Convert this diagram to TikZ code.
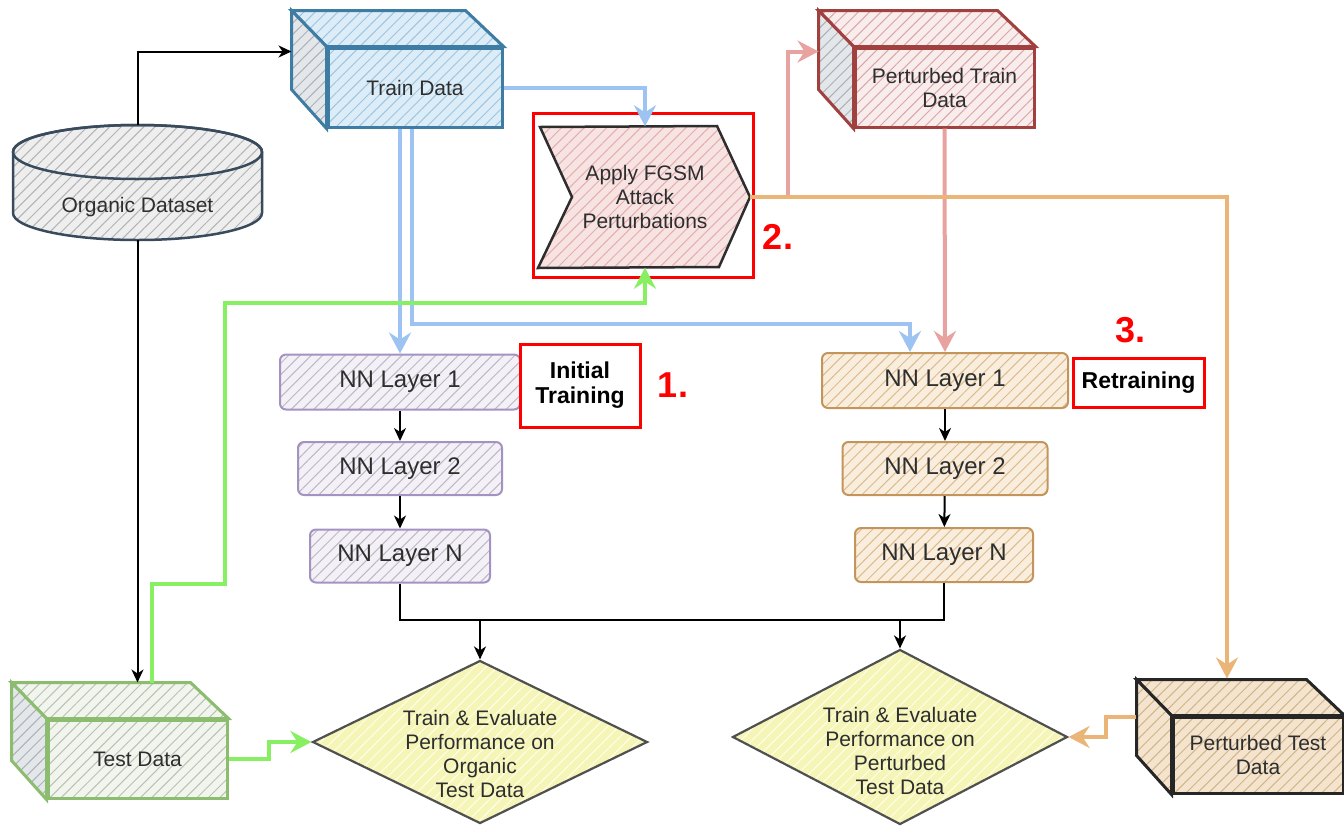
\documentclass[tikz,border=0pt]{standalone}
\usepackage{fontspec}
\setmainfont{Liberation Sans}
\usetikzlibrary{arrows.meta,calc,patterns.meta,shapes.geometric}

\definecolor{txtgray}{HTML}{2E2E2E}
\definecolor{bluestroke}{HTML}{3E7CA3}
\definecolor{bluefill}{HTML}{DDEDF8}
\definecolor{bluehatch}{HTML}{9CC5E2}
\definecolor{sidefill}{HTML}{E4E7EA}
\definecolor{sidehatch}{HTML}{AAB1B8}
\definecolor{redstroke}{HTML}{A0413F}
\definecolor{redfill}{HTML}{F9ECEC}
\definecolor{redhatch}{HTML}{D9A5A5}
\definecolor{grnstroke}{HTML}{8CBC6E}
\definecolor{grnfill}{HTML}{F1F5EE}
\definecolor{grnhatch}{HTML}{B8C2B2}
\definecolor{tanstroke}{HTML}{262626}
\definecolor{tanfill}{HTML}{F4E4CD}
\definecolor{tanhatch}{HTML}{D2B48A}
\definecolor{orgstroke}{HTML}{384A5C}
\definecolor{orgfill}{HTML}{EEEEEE}
\definecolor{orghatch}{HTML}{B3B3B3}
\definecolor{nnlstroke}{HTML}{A493C2}
\definecolor{nnlfill}{HTML}{F3F1F5}
\definecolor{nnlhatch}{HTML}{BFB6CB}
\definecolor{nnrstroke}{HTML}{C4955A}
\definecolor{nnrfill}{HTML}{F9EEDD}
\definecolor{nnrhatch}{HTML}{DDBB8C}
\definecolor{dmdfill}{HTML}{F5F5B8}
\definecolor{dmdhatch}{HTML}{FFFFEA}
\definecolor{dmdstroke}{HTML}{505050}
\definecolor{fgsmfill}{HTML}{F8E3E3}
\definecolor{fgsmhatch}{HTML}{E3AEAE}
\definecolor{conblue}{HTML}{9DC3F2}
\definecolor{conpink}{HTML}{E8A2A0}
\definecolor{conorange}{HTML}{EBB577}
\definecolor{congreen}{HTML}{86EF62}
\definecolor{markred}{HTML}{FF0000}

\newcommand{\dcube}[8]{%
  \node[#6, minimum width=#4, minimum height=#5] (#1) at (#2,#3) {#8};
  \draw[#6] (#1.north west) -- ++(-35,-36) -- ++(#4,0) -- (#1.north east) -- cycle;
  \draw[#7] (#1.north west) -- ++(-35,-36) -- ++(0,#5) -- (#1.south west) -- cycle;
}

\begin{document}
\begin{tikzpicture}[x=1pt,y=-1pt,
  hatch/.style n args={3}{preaction={fill=#1},
    pattern={Lines[angle=45,distance=8pt,line width=1pt]},
    pattern color=#2, draw=#3},
  boxtxt/.style={text=txtgray, align=center, font=\fontsize{21}{24}\selectfont},
  cubeblue/.style={hatch={bluefill}{bluehatch}{bluestroke}, line width=3pt, boxtxt, inner sep=0pt},
  sideblue/.style={hatch={sidefill}{sidehatch}{bluestroke}, line width=3pt},
  cubered/.style={hatch={redfill}{redhatch}{redstroke}, line width=3pt, boxtxt, inner sep=0pt},
  sidered/.style={hatch={sidefill}{sidehatch}{redstroke}, line width=3pt},
  cubegrn/.style={hatch={grnfill}{grnhatch}{grnstroke}, line width=3pt, boxtxt, inner sep=0pt},
  sidegrn/.style={hatch={sidefill}{sidehatch}{grnstroke}, line width=3pt},
  cubetan/.style={hatch={tanfill}{tanhatch}{tanstroke}, line width=3pt, boxtxt, inner sep=0pt},
  sidetan/.style={hatch={tanfill}{tanhatch}{tanstroke}, line width=3pt},
  nnl/.style={hatch={nnlfill}{nnlhatch}{nnlstroke}, line width=2pt, rounded corners=6pt,
    text=txtgray, font=\fontsize{24}{28}\selectfont, inner sep=0pt},
  nnr/.style={hatch={nnrfill}{nnrhatch}{nnrstroke}, line width=2pt, rounded corners=6pt,
    text=txtgray, font=\fontsize{24}{28}\selectfont, inner sep=0pt},
  dmd/.style={diamond, hatch={dmdfill}{dmdhatch}{dmdstroke}, line width=2.2pt, inner sep=0pt},
  redbox/.style={draw=markred, line width=3pt, inner sep=0pt, align=center,
    font=\bfseries\fontsize{23}{25}\selectfont},
  rednum/.style={text=markred, font=\bfseries\fontsize{36}{40}\selectfont, inner sep=0pt},
  blk/.style={draw=black, line width=2pt, -{Stealth[length=13pt,width=12pt,inset=4pt]}},
  blkline/.style={draw=black, line width=2pt},
  cbase/.style={line width=4pt, -{Stealth[length=21pt,width=22pt,inset=7pt]}},
  cblue/.style={cbase, draw=conblue, color=conblue},
  cpink/.style={cbase, draw=conpink, color=conpink},
  corange/.style={cbase, draw=conorange, color=conorange},
  cgreen/.style={cbase, draw=congreen, color=congreen},
]
\useasboundingbox (0,0) rectangle (1344,825);

% ---------- Organic dataset (cylinder) ----------
\path[hatch={orgfill}{orghatch}{orgstroke}, line width=2.5pt]
  (13,152) -- (13,213) arc[start angle=180, end angle=0, x radius=124.5, y radius=27]
  -- (262,152) arc[start angle=0, end angle=-180, x radius=124.5, y radius=27] -- cycle;
\draw[orgstroke, line width=2.5pt] (137.5,152) ellipse[x radius=124.5, y radius=27];
\node[minimum width=249, minimum height=115, inner sep=0pt] (organic) at (137.5,182.5) {};
\node[boxtxt] (organictxt) at (137.5,207) {Organic Dataset};

% ---------- data cubes ----------
\dcube{train}{415}{87.5}{174}{79}{cubeblue}{sideblue}{Train Data}
\dcube{ptrain}{944.5}{87.5}{179}{79}{cubered}{sidered}{Perturbed Train\\Data}
\dcube{test}{137.5}{759}{179}{78}{cubegrn}{sidegrn}{Test Data}
\dcube{ptest}{1258}{755}{170}{76}{cubetan}{sidetan}{Perturbed Test\\Data}

% ---------- FGSM step ----------
\path[hatch={fgsmfill}{fgsmhatch}{txtgray}, line width=2.5pt]
  (540,127) -- (717,126) -- (750,197) -- (719,267) -- (538,268) -- (572,197) -- cycle;
\node[boxtxt, minimum width=210, minimum height=141, inner sep=0pt] (fgsm) at (645,197)
  {Apply FGSM\\Attack\\Perturbations};
\node[draw=markred, line width=3pt, minimum width=220, minimum height=164, inner sep=0pt]
  (fgsmbox) at (643,195) {};
\node[rednum] (n2) at (778,237) {2.};

% ---------- NN layers ----------
\node[nnl, minimum width=240, minimum height=55] (l1) at (400,382) {NN Layer 1};
\node[nnl, minimum width=204, minimum height=53] (l2) at (400,468.5) {NN Layer 2};
\node[nnl, minimum width=180, minimum height=53] (ln) at (400,556) {NN Layer N};
\node[nnr, minimum width=246, minimum height=55] (r1) at (945,380.5) {NN Layer 1};
\node[nnr, minimum width=205, minimum height=53] (r2) at (945,468.5) {NN Layer 2};
\node[nnr, minimum width=178, minimum height=54] (rn) at (944,555) {NN Layer N};

\node[redbox, minimum width=120, minimum height=83] (init) at (580,385.5) {Initial\\Training};
\node[rednum] (n1) at (673,385) {1.};
\node[redbox, minimum width=131, minimum height=49] (retr) at (1138.5,382.5) {Retraining};
\node[rednum] (n3) at (1130,330) {3.};

% ---------- diamonds ----------
\node[dmd, minimum width=335, minimum height=163] (dl) at (480,742) {};
\node[boxtxt] (dltxt) at (480,754) {Train \& Evaluate\\Performance on\\Organic\\Test Data};
\node[dmd, minimum width=335, minimum height=175] (dr) at (900,737) {};
\node[boxtxt] (drtxt) at (900,751) {Train \& Evaluate\\Performance on\\Perturbed\\Test Data};

% ---------- helper coordinates ----------
\coordinate (trainback) at ($(train.west)+(-35,-36)$);
\coordinate (ptrainback) at ($(ptrain.west)+(-35,-36)$);
\coordinate (testtop) at ($(test.north)+(0,-36)$);
\coordinate (ptesttop) at ($(ptest.north)+(-31,-37)$);
\coordinate (ptestside) at ($(ptest.north west)+(-36,1)$);
\coordinate (bus) at ($(ln.south)+(0,36)$);

% ---------- black connectors ----------
\draw[blk] (organic.north) |- (trainback);
\draw[blk] (organic.south) -- (testtop);
\draw[blk] (l1) -- (l2);
\draw[blk] (l2) -- (ln);
\draw[blk] (r1) -- (r2);
\draw[blk] (r2) -- (rn);
\draw[blkline] (ln.south) -- (bus) -| (rn.south);
\draw[blk] (bus -| dl.north) -- (dl.north);
\draw[blk] (bus -| dr.north) -- (dr.north);

% ---------- coloured connectors ----------
\draw[cblue] (train.east) -| (fgsm.north);
\draw[cblue] (l1.north |- train.south) -- (l1.north);
\draw[cblue] ($(train.south)+(-3,0)$) -- ++(0,195) -| ($(r1.north)+(-35,0)$);
\draw[cpink] ($(fgsm.east)+(38,0)$) |- (ptrainback);
\draw[cpink] (ptrain.south) -- (r1.north);
\draw[corange] (fgsm.east) -| (ptesttop);
\draw[corange] (ptestside) -- ++(-30,0) |- (dr.east);
\draw[cgreen] ($(testtop)+(14,0)$) -- ++(0,-99) -| (225,303) -| (fgsm.south);
\draw[cgreen] (test.east) -- ++(40,0) |- (dl.west);
\end{tikzpicture}
\end{document}
